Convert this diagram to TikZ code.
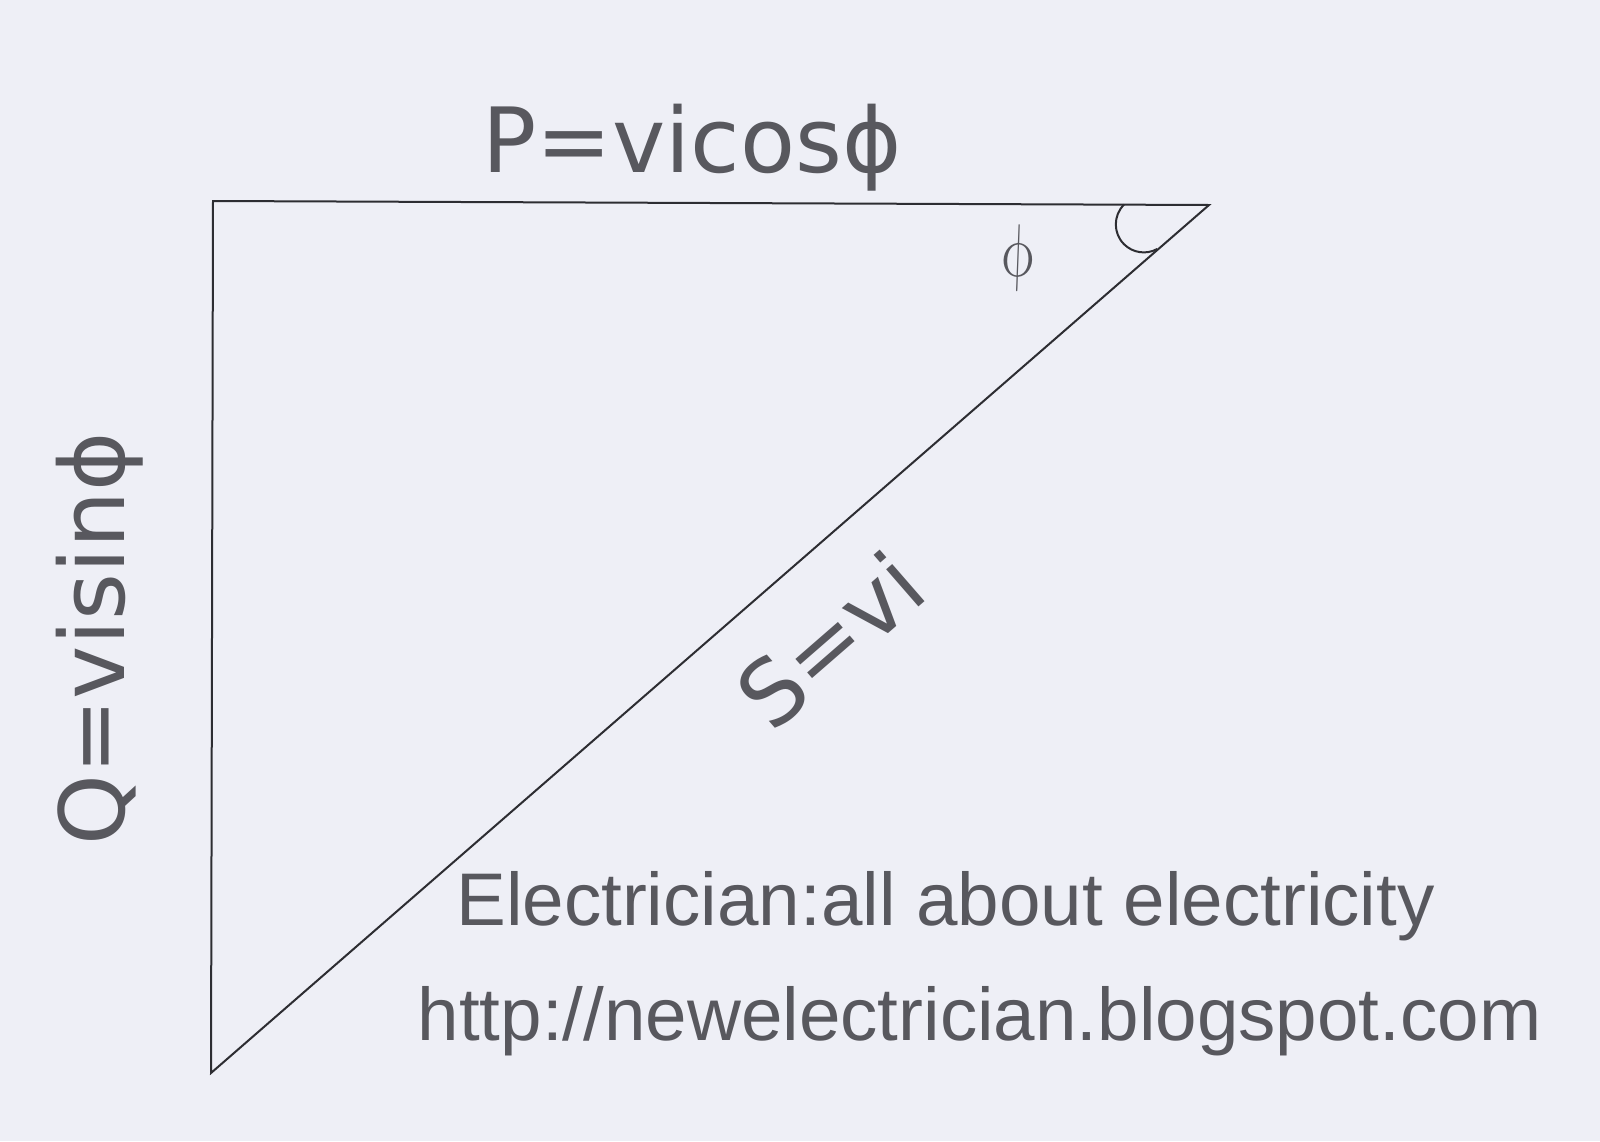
\documentclass[tikz,border=0pt]{standalone}
\usepackage{fontspec}
\newfontfamily\dvfont{DejaVu Sans}
\newfontfamily\lsfont{Liberation Sans}
\definecolor{bgcol}{RGB}{238,239,246}
\definecolor{txtcol}{RGB}{88,88,94}
\definecolor{linecol}{RGB}{45,45,50}
\tikzset{
  formula/.style={text=txtcol, inner sep=0pt, font=\dvfont\fontsize{45}{54}\selectfont},
  credit/.style={text=txtcol, inner sep=0pt, font=\lsfont\fontsize{37.3}{44}\selectfont},
  edge/.style={draw=linecol, line width=1pt, line join=miter},
  anglemark/.style={draw=linecol, line width=1pt},
  anglelabel/.style={text=txtcol, inner sep=0pt, xscale=1.15, yscale=1.5, xslant=-0.2}
}
\begin{document}
\begin{tikzpicture}[x=0.5pt,y=-0.5pt]
  \fill[bgcol] (0,0) rectangle (1600,1141);
  \useasboundingbox (0,0) rectangle (1600,1141);
  % triangle corners
  \coordinate (A) at (213,201);
  \coordinate (B) at (1209,205);
  \coordinate (C) at (211,1073);
  \draw[edge] (A) -- (B) -- (C) -- cycle;
  % angle arc at B
  \coordinate (arcstart) at (1124,204.6);
  \draw[anglemark] (arcstart) arc[start angle=225, end angle=61.6, radius=28];
  % labels
  \node[formula, anchor=base] (P) at (692,172) {P=vicosϕ};
  \node[formula, anchor=base, rotate=90] (Q) at (124,639) {Q=visinϕ};
  \node[formula, anchor=base, rotate=41] (S) at (852,665) {S=vi};
  \node[anglelabel] (phi) at (1017,258) {\fontsize{36}{42}\selectfont$\phi$};
  \node[credit, anchor=base] (line1) at (945.5,925) {Electrician:all about electricity};
  \node[credit, anchor=base] (line2) at (979.5,1040) {http://newelectrician.blogspot.com};
\end{tikzpicture}
\end{document}
